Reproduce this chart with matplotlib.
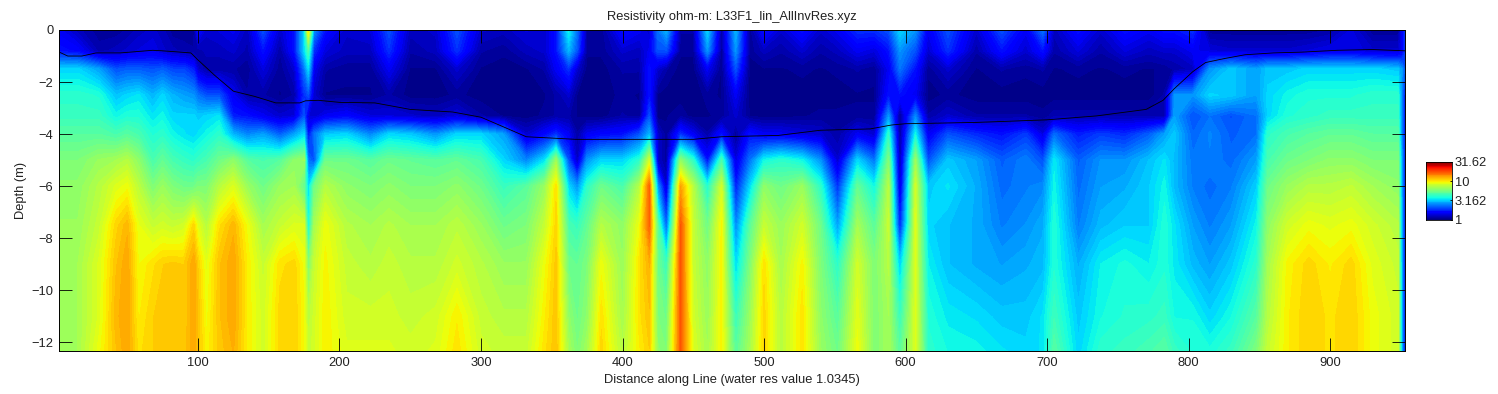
import numpy as np
import matplotlib
matplotlib.use("Agg")
import matplotlib.pyplot as plt

plt.rcParams['font.family'] = ['Liberation Sans', 'DejaVu Sans']

# stations along the line, 10 per row
stations = [2, 15, 30, 42, 50, 58, 68, 75, 82, 90,
            97, 100, 106, 115, 125, 135, 146, 158, 168, 175,
            178, 182, 190, 205, 222, 235, 250, 268, 283, 300,
            316, 332, 345, 353, 362, 368, 375, 385, 400, 412,
            419, 425, 431, 441, 450, 460, 470, 480, 490, 500,
            512, 527, 540, 552, 566, 578, 588, 596, 607, 616,
            630, 650, 668, 685, 697, 705, 722, 738, 755, 772,
            783, 790, 803, 815, 830, 848, 856, 870, 885, 900,
            915, 930, 948, 951, 953]

depths = [0, -0.8, -1.5, -2.5, -3.3, -4, -5, -6, -7.5, -9, -11, -12.33]

# log10 of resistivity, one list per depth
res_d00 = [.15, .08, .03, .03, .05, .08, .1, .08, .03, .03,
           .03, .2, .1, .12, .15, .08, .3, .1, .2, .5,
           1.0, .4, .2, .1, .12, .3, .08, .1, .3, .1,
           .08, .12, .1, .2, .55, .35, .03, .03, .2, .15,
           .1, .35, .45, .05, .05, .5, .05, .45, .03, .2,
           .1, .2, .1, .15, .25, .25, .3, .5, .4, .15,
           .3, .1, .3, .15, .35, .08, .2, .1, .2, .15,
           .2, .2, .25, .03, .03, .03, .03, .03, .03, .05,
           .12, .03, .03, .15, .25]
res_d08 = [.2, .18, .06, .08, .1, .12, .14, .1, .08, .06,
           .05, .05, .08, .08, .1, .06, .2, .05, .2, .5,
           .65, .25, .12, .08, .08, .25, .05, .08, .25, .05,
           .03, .08, .1, .2, .45, .3, .03, .03, .1, .08,
           .15, .3, .3, .03, .03, .4, .03, .4, .03, .08,
           .05, .1, .05, .08, .15, .12, .2, .4, .3, .1,
           .25, .05, .2, .1, .2, .05, .12, .05, .12, .08,
           .1, .1, .15, .12, .1, .1, .1, .1, .12, .14,
           .14, .1, .1, .15, .25]
res_d15 = [.5, .5, .42, .3, .32, .32, .3, .32, .28, .28,
           .22, .1, .05, .05, .05, .03, .12, .03, .1, .35,
           .5, .15, .05, .03, .03, .15, .02, .02, .1, .02,
           .01, .02, .05, .15, .25, .1, .01, .01, .05, .05,
           .2, .1, .05, .01, .01, .15, .02, .3, .01, .02,
           .02, .03, .02, .03, .05, .03, .15, .35, .2, .03,
           .1, .02, .05, .03, .05, .02, .03, .02, .03, .02,
           .03, .05, .08, .4, .48, .42, .48, .48, .5, .5,
           .5, .5, .48, .4, .3]
res_d25 = [.6, .6, .58, .47, .5, .52, .45, .5, .45, .42,
           .4, .35, .3, .3, .15, .05, .05, .02, .05, .25,
           .3, .1, .02, .02, .02, .05, .01, .01, .03, .01,
           .01, .01, .02, .05, .1, .02, .01, .01, .03, .02,
           .2, .02, .01, .01, .01, .03, .02, .15, .01, .01,
           .01, .01, .01, .01, .02, .02, .2, .2, .15, .01,
           .03, .01, .01, .01, .01, .01, .01, .01, .01, .01,
           .05, .4, .4, .5, .48, .42, .5, .55, .58, .58,
           .58, .6, .6, .35, .2]
res_d33 = [.62, .62, .62, .55, .58, .58, .52, .55, .5, .5,
           .5, .48, .5, .52, .22, .2, .15, .1, .12, .3,
           .12, .1, .15, .18, .12, .12, .1, .08, .12, .05,
           .02, .01, .03, .05, .05, .02, .01, .01, .05, .03,
           .3, .01, .02, .04, .01, .02, .03, .1, .02, .01,
           .01, .02, .03, .03, .03, .03, .4, .02, .38, .05,
           .1, .05, .05, .05, .03, .06, .06, .06, .06, .06,
           .06, .42, .3, .35, .3, .35, .5, .58, .6, .62,
           .62, .62, .62, .35, .2]
res_d40 = [.68, .68, .68, .65, .68, .65, .58, .6, .55, .52,
           .5, .52, .55, .6, .45, .38, .42, .32, .42, .5,
           .2, .35, .48, .5, .38, .5, .48, .4, .5, .5,
           .42, .1, .18, .25, .15, .05, .15, .18, .2, .3,
           .45, .1, .03, .25, .15, .05, .2, .03, .2, .15,
           .15, .12, .1, .05, .15, .1, .6, .03, .55, .15,
           .3, .24, .2, .27, .12, .34, .22, .27, .24, .32,
           .42, .48, .33, .38, .32, .35, .6, .65, .68, .7,
           .7, .68, .68, .35, .2]
res_d50 = [.75, .75, .8, .82, .85, .78, .65, .7, .65, .62,
           .6, .62, .65, .72, .78, .68, .65, .68, .78, .8,
           .35, .3, .72, .72, .68, .72, .7, .68, .7, .65,
           .5, .38, .52, .8, .3, .08, .4, .5, .5, .6,
           .9, .1, .03, .78, .6, .2, .65, .12, .35, .55,
           .6, .55, .4, .1, .5, .35, .75, .05, .8, .3,
           .48, .42, .32, .37, .3, .53, .32, .4, .4, .47,
           .52, .46, .36, .37, .34, .42, .65, .72, .75, .78,
           .78, .75, .75, .4, .2]
res_d60 = [.78, .78, .85, .92, .95, .86, .75, .8, .75, .72,
           .72, .75, .75, .85, .92, .8, .72, .8, .82, .7,
           .5, .72, .85, .78, .75, .78, .75, .75, .78, .72,
           .62, .68, .8, 1.0, .5, .4, .6, .72, .65, .85,
           1.2, .4, .1, 1.1, .85, .58, .9, .22, .5, .78,
           .72, .8, .6, .25, .7, .55, .85, .1, .9, .48,
           .52, .44, .34, .37, .39, .55, .34, .42, .44, .49,
           .55, .46, .37, .34, .37, .49, .72, .8, .85, .85,
           .87, .82, .78, .4, .2]
res_d75 = [.8, .8, .88, 1.02, 1.07, .94, .88, .9, .88, .9,
           1.02, .93, .85, 1.0, 1.07, .95, .82, .88, .92, .92,
           .55, .82, .95, .85, .82, .85, .82, .82, .86, .8,
           .72, .75, .88, 1.02, .65, .62, .7, .85, .78, .95,
           1.2, .68, .32, 1.22, .88, .72, .97, .38, .68, .88,
           .8, .9, .72, .42, .82, .68, .88, .22, .92, .5,
           .47, .44, .37, .4, .44, .58, .37, .46, .49, .49,
           .58, .52, .42, .37, .42, .55, .78, .9, .95, .93,
           .95, .9, .85, .4, .2]
res_d90 = [.82, .82, .92, 1.05, 1.1, .96, 1.0, 1.03, 1.04, 1.03,
           1.1, 1.03, .93, 1.05, 1.1, .98, .88, 1.0, 1.02, .95,
           .75, .88, .97, .88, .85, .88, .85, .85, .9, .85,
           .8, .8, .95, 1.04, .72, .7, .75, .95, .8, 1.0,
           1.08, .72, .62, 1.22, .88, .78, .97, .5, .75, 1.0,
           .82, .97, .75, .6, .9, .75, .85, .48, .92, .54,
           .47, .44, .42, .44, .46, .58, .44, .54, .57, .54,
           .58, .53, .46, .42, .48, .6, .82, .97, 1.02, .98,
           1.02, .93, .88, .4, .2]
res_d110 = [.82, .82, .92, 1.07, 1.1, .98, 1.03, 1.04, 1.05, 1.03,
            1.1, 1.05, .95, 1.05, 1.1, .98, .9, 1.02, 1.03, .96,
            .85, .9, .98, .9, .9, .9, .88, .9, .98, .88,
            .85, .85, .98, 1.05, .78, .72, .78, 1.0, .82, 1.0,
            1.05, .75, .72, 1.22, .9, .8, .97, .62, .8, 1.02,
            .85, 1.0, .78, .68, .93, .75, .82, .62, .92, .58,
            .53, .51, .48, .48, .52, .63, .48, .56, .59, .6,
            .62, .56, .56, .5, .56, .68, .85, .98, 1.03, 1.0,
            1.03, .95, .9, .4, .2]
res_d123 = [.82, .82, .95, 1.05, 1.1, 1.0, 1.03, 1.05, 1.05, 1.04,
            1.1, 1.05, .97, 1.04, 1.08, .98, .9, 1.02, 1.03, .96,
            .88, .9, .98, .92, .92, .92, .9, .92, 1.0, .9,
            .88, .88, 1.0, 1.05, .82, .75, .82, 1.02, .85, .98,
            1.03, .78, .75, 1.22, .92, .82, .97, .68, .82, 1.02,
            .85, 1.0, .8, .72, .95, .75, .82, .68, .92, .6,
            .56, .55, .52, .5, .52, .68, .5, .6, .62, .65,
            .68, .62, .58, .57, .62, .75, .88, .98, 1.03, 1.0,
            1.03, .95, .9, .4, .2]

# water bottom line
line_x = [2, 8, 18, 28, 45, 68, 75, 95, 100, 112, 125, 140, 155, 172, 176, 185,
          200, 225, 250, 280, 300, 315, 332, 367, 450, 470, 510, 540, 575, 590,
          600, 650, 700, 735, 770, 782, 790, 803, 812, 825, 840, 860, 880, 905,
          930, 953]
line_y = [-.85, -1, -1, -.88, -.88, -.78, -.8, -.88, -1.15, -1.75, -2.35, -2.55,
          -2.8, -2.8, -2.72, -2.7, -2.78, -2.8, -3.05, -3.15, -3.35, -3.7, -4.1,
          -4.2, -4.2, -4.1, -4.05, -3.85, -3.8, -3.65, -3.6, -3.55, -3.45, -3.3,
          -3.05, -2.7, -2.25, -1.6, -1.25, -1.1, -.95, -.88, -.85, -.78, -.75, -.8]

cbar_ticks = [0, 0.5, 1, 1.5]
cbar_labels = ['1', '3.162', '10', '31.62']

grid = np.array([res_d00, res_d08, res_d15, res_d25, res_d33, res_d40, res_d50,
                 res_d60, res_d75, res_d90, res_d110, res_d123])

fig = plt.figure(figsize=(14.98, 3.94), dpi=100)
ax = fig.add_axes([59 / 1498, 1 - 351 / 394, 1345.5 / 1498, 321 / 394])

levels = np.linspace(0, 1.5, 65)
cs = ax.contourf(stations, depths, grid, levels=levels, cmap='jet', extend='both')
ax.plot(line_x, line_y, color='black', lw=0.6)

ax.set_xlim(1.8, 952.6)
ax.set_ylim(-12.33, 0)
ax.set_xticks(range(100, 901, 100))
ax.set_yticks(range(-12, 1, 2))
ax.tick_params(direction='in', length=9.5, width=0.6, labelsize=9.3, top=True,
               right=True, labelcolor='#222222', pad=4)
for s in ax.spines.values():
    s.set_linewidth(0.7)
ax.set_title('Resistivity ohm-m: L33F1_lin_AllInvRes.xyz', fontsize=9.3, pad=7, color='#222222')
ax.set_xlabel('Distance along Line (water res value 1.0345)', fontsize=9.3, labelpad=4, color='#222222')
ax.set_ylabel('Depth (m)', fontsize=9.3, labelpad=3.5, color='#222222')

cax = fig.add_axes([1425.5 / 1498, 1 - 219.5 / 394, 26.5 / 1498, 57.5 / 394])
cax.pcolormesh([0, 1], levels, levels[:-1][:, None], cmap='jet', vmin=0, vmax=1.5)
cax.set_xticks([])
cax.yaxis.tick_right()
cax.set_ylim(0, 1.5)
cax.set_yticks(cbar_ticks)
cax.set_yticklabels(cbar_labels)
cax.tick_params(direction='in', length=1.5, width=0.6, labelsize=9.3, pad=2, labelcolor='#222222')
for s in cax.spines.values():
    s.set_linewidth(0.6)

fig.savefig('out.png', dpi=100)
